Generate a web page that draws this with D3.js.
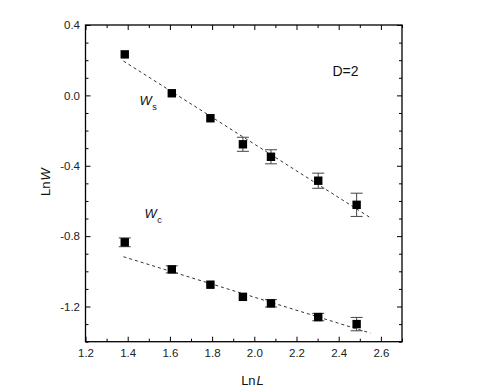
<!DOCTYPE html>
<html>
<head>
<meta charset="utf-8">
<script src="https://cdn.jsdelivr.net/npm/d3@7"></script>
<style>
  body { margin: 0; background: #fff; }
  text { font-family: "Liberation Sans", Arial, sans-serif; }
</style>
</head>
<body>
<div id="chart"></div>
<script>
// data
const lnL = [1.386, 1.609, 1.792, 1.946, 2.079, 2.303, 2.485];
const ws = [0.233, 0.012, -0.130, -0.278, -0.349, -0.485, -0.622];
const wsErr = [0, 0, 0, 0.040, 0.040, 0.043, 0.066];
const wc = [-0.835, -0.989, -1.076, -1.145, -1.182, -1.260, -1.300];
const wcErr = [0.025, 0.02, 0, 0, 0.021, 0.021, 0.038];

// dashed fit lines (end points)
const fitX = [1.38, 2.55];
const wsFit = [0.195, -0.695];
const wcFit = [-0.917, -1.351];

const xMajor = [1.2, 1.4, 1.6, 1.8, 2.0, 2.2, 2.4, 2.6];
const xMinor = [1.3, 1.5, 1.7, 1.9, 2.1, 2.3, 2.5, 2.7];
const yMajor = [-1.2, -0.8, -0.4, 0.0, 0.4];
const yMinor = [-1.4, -1.3, -1.1, -1.0, -0.9, -0.7, -0.6, -0.5, -0.3, -0.2, -0.1, 0.1, 0.2, 0.3];

const width = 485;
const height = 389;
const margin = {top: 25, right: 83, bottom: 47.3, left: 85.5};
const w = width - margin.left - margin.right;
const h = height - margin.top - margin.bottom;

const svg = d3.select("#chart")
    .append("svg")
    .attr("width", width)
    .attr("height", height);

const g = svg.append("g")
    .attr("transform", `translate(${margin.left},${margin.top})`);

const x = d3.scaleLinear().domain([1.2, 2.7]).range([0, w]);
const y = d3.scaleLinear().domain([-1.4, 0.4]).range([h, 0]);

const fmt = d => d.toFixed(1);

function styleAxis(sel) {
    sel.select(".domain").remove();
    sel.selectAll("line").attr("stroke", "#000").attr("stroke-width", 1);
    sel.selectAll("text")
        .attr("fill", "#222")
        .style("font-size", "11.5px");
}

// bottom
g.append("g").attr("transform", `translate(0,${h})`)
    .call(d3.axisBottom(x).tickValues(xMajor).tickFormat(fmt).tickSize(-5).tickPadding(7.5))
    .call(styleAxis);
g.append("g").attr("transform", `translate(0,${h})`)
    .call(d3.axisBottom(x).tickValues(xMinor).tickFormat("").tickSize(-3))
    .call(styleAxis);
// top
g.append("g")
    .call(d3.axisTop(x).tickValues(xMajor).tickFormat("").tickSize(-5))
    .call(styleAxis);
g.append("g")
    .call(d3.axisTop(x).tickValues(xMinor).tickFormat("").tickSize(-3))
    .call(styleAxis);
// left
g.append("g")
    .call(d3.axisLeft(y).tickValues(yMajor).tickFormat(fmt).tickSize(-5).tickPadding(5.5))
    .call(styleAxis);
g.append("g")
    .call(d3.axisLeft(y).tickValues(yMinor).tickFormat("").tickSize(-3))
    .call(styleAxis);
// right
g.append("g").attr("transform", `translate(${w},0)`)
    .call(d3.axisRight(y).tickValues(yMajor).tickFormat("").tickSize(-5))
    .call(styleAxis);
g.append("g").attr("transform", `translate(${w},0)`)
    .call(d3.axisRight(y).tickValues(yMinor).tickFormat("").tickSize(-3))
    .call(styleAxis);

// frame
g.append("rect")
    .attr("width", w)
    .attr("height", h)
    .attr("fill", "none")
    .attr("stroke", "#000")
    .attr("stroke-width", 1.3);

// fit lines
const line = d3.line().x(d => x(d[0])).y(d => y(d[1]));
[wsFit, wcFit].forEach(fit => {
    g.append("path")
        .datum(fitX.map((v, i) => [v, fit[i]]))
        .attr("d", line)
        .attr("fill", "none")
        .attr("stroke", "#333")
        .attr("stroke-width", 1)
        .attr("stroke-dasharray", "3,3");
});

// error bars + squares
function drawSeries(vals, errs) {
    const pts = lnL.map((v, i) => ({x: v, y: vals[i], e: errs[i]}));
    const eb = g.append("g").selectAll("g")
        .data(pts.filter(d => d.e > 0))
        .enter()
        .append("g")
        .attr("stroke", "#444")
        .attr("stroke-width", 1);
    eb.append("line")
        .attr("x1", d => x(d.x)).attr("x2", d => x(d.x))
        .attr("y1", d => y(d.y + d.e)).attr("y2", d => y(d.y - d.e));
    eb.append("line")
        .attr("x1", d => x(d.x) - 6).attr("x2", d => x(d.x) + 6)
        .attr("y1", d => y(d.y + d.e)).attr("y2", d => y(d.y + d.e));
    eb.append("line")
        .attr("x1", d => x(d.x) - 6).attr("x2", d => x(d.x) + 6)
        .attr("y1", d => y(d.y - d.e)).attr("y2", d => y(d.y - d.e));

    g.append("g").selectAll("rect")
        .data(pts)
        .enter()
        .append("rect")
        .attr("x", d => x(d.x) - 4.2)
        .attr("y", d => y(d.y) - 4.2)
        .attr("width", 8.4)
        .attr("height", 8.4)
        .attr("fill", "#000");
}
drawSeries(ws, wsErr);
drawSeries(wc, wcErr);

// series labels
function wLabel(px, py, sub) {
    const t = svg.append("text")
        .attr("x", px)
        .attr("y", py)
        .attr("fill", "#111");
    t.append("tspan").style("font-style", "italic").style("font-size", "13px").text("W");
    t.append("tspan").style("font-size", "9px").attr("dy", 4.5).attr("dx", 0.5).text(sub);
}
wLabel(139.5, 105, "s");
wLabel(144.5, 218.3, "c");

svg.append("text")
    .attr("x", 332.5)
    .attr("y", 76)
    .attr("fill", "#111")
    .style("font-size", "14px")
    .text("D=2");

// axis titles
const xt = svg.append("text")
    .attr("x", 252.5)
    .attr("y", 385)
    .attr("text-anchor", "middle")
    .attr("fill", "#111")
    .style("font-size", "13px");
xt.append("tspan").text("Ln");
xt.append("tspan").style("font-style", "italic").attr("dx", 1).text("L");

const yt = svg.append("text")
    .attr("transform", "translate(50,182) rotate(-90)")
    .attr("text-anchor", "middle")
    .attr("fill", "#111")
    .style("font-size", "13px");
yt.append("tspan").text("Ln");
yt.append("tspan").style("font-style", "italic").attr("dx", 1).text("W");
</script>
</body>
</html>
